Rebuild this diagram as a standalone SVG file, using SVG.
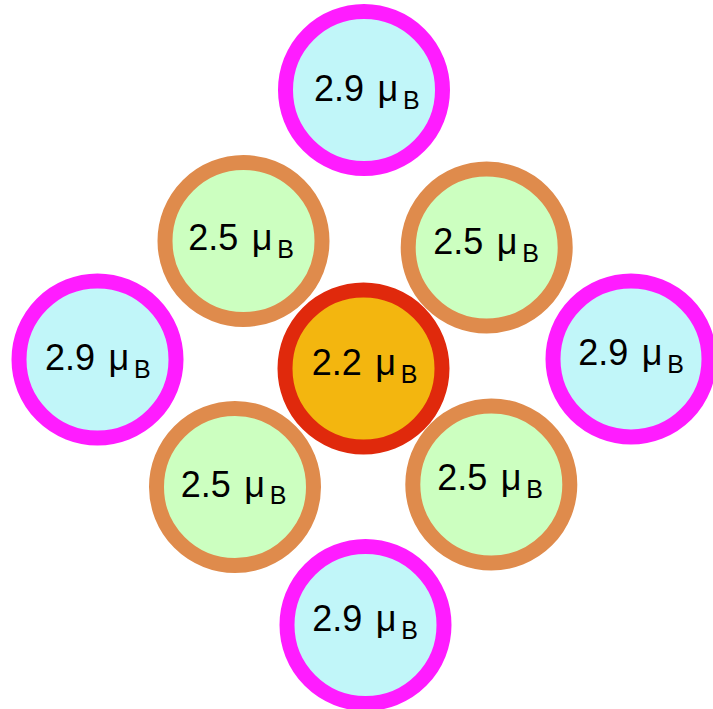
<svg xmlns="http://www.w3.org/2000/svg" width="713" height="709" viewBox="0 0 713 709">
<style>
  .ring { stroke-width: 15; }
  .outer { fill: #C1F6F9; stroke: #FF1CFF; }
  .mid { fill: #CCFFC0; stroke: #DF8B4C; }
  .core { fill: #F3B60F; stroke: #E0290C; }
  .lbl { font-family: "Liberation Sans", Arial, Helvetica, sans-serif; font-size: 36px; fill: #000; }
  .sub { font-size: 25px; }
</style>
<rect width="713" height="709" fill="#fff"/>
<g id="n-top">
  <circle class="ring outer" cx="364" cy="90" r="78.5"/>
  <text class="lbl" x="314" y="101">2.9 <tspan x="377.5">μ</tspan><tspan class="sub" x="403" y="108.6">B</tspan></text>
</g>
<g id="n-ul">
  <circle class="ring mid" cx="243.5" cy="241" r="78.5"/>
  <text class="lbl" x="188.3" y="250">2.5 <tspan x="251.8">μ</tspan><tspan class="sub" x="277.3" y="257.6">B</tspan></text>
</g>
<g id="n-ur">
  <circle class="ring mid" cx="486.7" cy="247.5" r="78.5"/>
  <text class="lbl" x="433.3" y="254">2.5 <tspan x="496.8">μ</tspan><tspan class="sub" x="522.3" y="261.6">B</tspan></text>
</g>
<g id="n-left">
  <circle class="ring outer" cx="97.5" cy="359.5" r="78.5"/>
  <text class="lbl" x="45" y="370">2.9 <tspan x="108.5">μ</tspan><tspan class="sub" x="134" y="377.6">B</tspan></text>
</g>
<g id="n-center">
  <circle class="ring core" cx="363.5" cy="368.5" r="78.5"/>
  <text class="lbl" x="311.7" y="375">2.2 <tspan x="375.2">μ</tspan><tspan class="sub" x="400.7" y="382.6">B</tspan></text>
</g>
<g id="n-right">
  <circle class="ring outer" cx="631" cy="359" r="78"/>
  <text class="lbl" x="578.3" y="365">2.9 <tspan x="641.8">μ</tspan><tspan class="sub" x="667.3" y="372.6">B</tspan></text>
</g>
<g id="n-ll">
  <circle class="ring mid" cx="235" cy="487" r="78.5"/>
  <text class="lbl" x="180.7" y="496.7">2.5 <tspan x="244.2">μ</tspan><tspan class="sub" x="269.7" y="504.3">B</tspan></text>
</g>
<g id="n-lr">
  <circle class="ring mid" cx="491.3" cy="484.5" r="78.5"/>
  <text class="lbl" x="437.3" y="490">2.5 <tspan x="500.8">μ</tspan><tspan class="sub" x="526.3" y="497.6">B</tspan></text>
</g>
<g id="n-bottom">
  <circle class="ring outer" cx="365.5" cy="625" r="78.5"/>
  <text class="lbl" x="312.3" y="631">2.9 <tspan x="375.8">μ</tspan><tspan class="sub" x="401.3" y="638.6">B</tspan></text>
</g>
</svg>
